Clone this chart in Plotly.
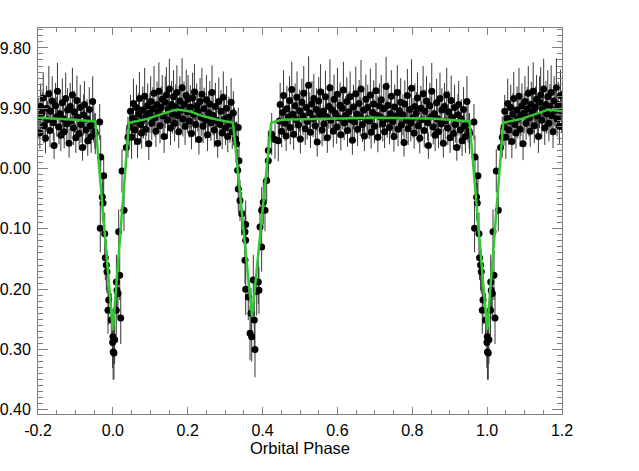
import plotly.graph_objects as go
import numpy as np

# out-of-eclipse photometry, phase 0.04 - 0.33
phase_a = [0.045, 0.047, 0.050, 0.053, 0.055, 0.058, 0.061, 0.063, 0.066, 0.069,
           0.071, 0.074, 0.077, 0.080, 0.082, 0.085, 0.088, 0.090, 0.093, 0.096,
           0.099, 0.101, 0.104, 0.107, 0.110, 0.112, 0.115, 0.118, 0.121, 0.123,
           0.126, 0.129, 0.132, 0.134, 0.137, 0.140, 0.143, 0.146, 0.148, 0.151,
           0.154, 0.157, 0.159, 0.162, 0.165, 0.168, 0.171, 0.173, 0.176, 0.179,
           0.182, 0.185, 0.187, 0.190, 0.193, 0.196, 0.199, 0.201, 0.204, 0.207,
           0.210, 0.213, 0.216, 0.218, 0.221, 0.224, 0.227, 0.230, 0.233, 0.236,
           0.238, 0.241, 0.244, 0.247, 0.250, 0.253, 0.256, 0.259, 0.262, 0.265,
           0.268, 0.271, 0.274, 0.277, 0.280, 0.283, 0.286, 0.289, 0.292, 0.295,
           0.298, 0.301, 0.304, 0.307, 0.310, 0.313, 0.316, 0.319, 0.322, 0.325, 0.328]
mag_a = [19.931, 19.905, 19.948, 19.917, 19.892, 19.936, 19.921, 19.899, 19.955, 19.910,
         19.884, 19.927, 19.941, 19.903, 19.918, 19.880, 19.935, 19.912, 19.896, 19.959,
         19.908, 19.889, 19.925, 19.901, 19.875, 19.916, 19.938, 19.894, 19.906, 19.872,
         19.929, 19.899, 19.885, 19.913, 19.947, 19.890, 19.878, 19.920, 19.902, 19.868,
         19.933, 19.894, 19.909, 19.881, 19.925, 19.897, 19.874, 19.912, 19.939, 19.888,
         19.903, 19.866, 19.918, 19.894, 19.930, 19.879, 19.906, 19.885, 19.921, 19.898,
         19.942, 19.883, 19.910, 19.873, 19.927, 19.896, 19.905, 19.952, 19.889, 19.915,
         19.877, 19.930, 19.901, 19.919, 19.886, 19.944, 19.908, 19.893, 19.924, 19.874,
         19.912, 19.936, 19.897, 19.920, 19.958, 19.889, 19.927, 19.905, 19.941, 19.882,
         19.918, 19.933, 19.900, 19.947, 19.915, 19.926, 19.890, 19.939, 19.908, 19.929, 19.951]
err_a = [0.031, 0.027, 0.036, 0.029, 0.041, 0.025, 0.033, 0.038, 0.028, 0.035,
         0.044, 0.030, 0.026, 0.039, 0.032, 0.047, 0.029, 0.034, 0.037, 0.027,
         0.033, 0.042, 0.028, 0.036, 0.045, 0.031, 0.026, 0.038, 0.030, 0.048,
         0.029, 0.035, 0.040, 0.032, 0.027, 0.043, 0.046, 0.031, 0.036, 0.050,
         0.028, 0.039, 0.033, 0.044, 0.030, 0.037, 0.045, 0.032, 0.027, 0.041,
         0.034, 0.049, 0.029, 0.038, 0.031, 0.043, 0.035, 0.040, 0.028, 0.036,
         0.026, 0.042, 0.033, 0.046, 0.030, 0.037, 0.034, 0.025, 0.039, 0.031,
         0.044, 0.028, 0.035, 0.032, 0.041, 0.027, 0.036, 0.038, 0.030, 0.045,
         0.033, 0.029, 0.039, 0.031, 0.024, 0.040, 0.030, 0.035, 0.027, 0.043,
         0.032, 0.028, 0.037, 0.026, 0.034, 0.031, 0.040, 0.029, 0.036, 0.030, 0.027]

# out-of-eclipse photometry, phase 0.44 - 0.95
phase_b = [0.445, 0.447, 0.451, 0.454, 0.456, 0.460, 0.463, 0.465, 0.469, 0.472,
           0.474, 0.478, 0.481, 0.483, 0.487, 0.490, 0.492, 0.496, 0.499, 0.501,
           0.505, 0.508, 0.510, 0.514, 0.517, 0.519, 0.523, 0.526, 0.528, 0.532,
           0.535, 0.537, 0.541, 0.544, 0.546, 0.550, 0.553, 0.555, 0.559, 0.562,
           0.564, 0.568, 0.571, 0.573, 0.577, 0.580, 0.582, 0.586, 0.589, 0.591,
           0.595, 0.598, 0.600, 0.604, 0.607, 0.609, 0.613, 0.616, 0.618, 0.622,
           0.625, 0.627, 0.631, 0.634, 0.636, 0.640, 0.643, 0.645, 0.649, 0.652,
           0.654, 0.658, 0.661, 0.663, 0.667, 0.670, 0.672, 0.676, 0.679, 0.681,
           0.685, 0.688, 0.690, 0.694, 0.697, 0.699, 0.703, 0.706, 0.708, 0.712,
           0.715, 0.717, 0.721, 0.724, 0.726, 0.730, 0.733, 0.735, 0.739, 0.742,
           0.744, 0.748, 0.751, 0.753, 0.757, 0.760, 0.762, 0.766, 0.769, 0.771,
           0.775, 0.778, 0.780, 0.784, 0.787, 0.789, 0.793, 0.796, 0.798, 0.802,
           0.805, 0.807, 0.811, 0.814, 0.816, 0.820, 0.823, 0.825, 0.829, 0.832,
           0.834, 0.838, 0.841, 0.843, 0.847, 0.850, 0.852, 0.856, 0.859, 0.861,
           0.865, 0.868, 0.870, 0.874, 0.877, 0.879, 0.883, 0.886, 0.888, 0.892,
           0.895, 0.897, 0.901, 0.904, 0.906, 0.910, 0.913, 0.915, 0.919, 0.922,
           0.924, 0.928, 0.931, 0.933, 0.937, 0.940, 0.942, 0.946, 0.949, 0.952]
mag_b = [19.921, 19.894, 19.938, 19.907, 19.879, 19.925, 19.946, 19.901, 19.915, 19.887,
         19.932, 19.869, 19.910, 19.943, 19.896, 19.919, 19.882, 19.928, 19.904, 19.951,
         19.890, 19.913, 19.875, 19.934, 19.899, 19.922, 19.862, 19.908, 19.940, 19.893,
         19.917, 19.884, 19.929, 19.902, 19.956, 19.888, 19.911, 19.873, 19.936, 19.905,
         19.926, 19.881, 19.914, 19.949, 19.897, 19.866, 19.920, 19.903, 19.938, 19.885,
         19.909, 19.931, 19.877, 19.916, 19.895, 19.944, 19.900, 19.870, 19.924, 19.912,
         19.889, 19.937, 19.906, 19.881, 19.919, 19.953, 19.898, 19.923, 19.876, 19.910,
         19.935, 19.892, 19.914, 19.868, 19.927, 19.903, 19.946, 19.885, 19.918, 19.899,
         19.921, 19.878, 19.940, 19.907, 19.893, 19.930, 19.871, 19.912, 19.948, 19.896,
         19.915, 19.886, 19.926, 19.901, 19.939, 19.864, 19.918, 19.895, 19.932, 19.909,
         19.880, 19.922, 19.947, 19.898, 19.913, 19.874, 19.935, 19.904, 19.890, 19.928,
         19.911, 19.957, 19.893, 19.920, 19.879, 19.934, 19.902, 19.925, 19.867, 19.916,
         19.941, 19.897, 19.908, 19.883, 19.929, 19.950, 19.900, 19.919, 19.876, 19.937,
         19.905, 19.888, 19.924, 19.962, 19.896, 19.914, 19.872, 19.931, 19.909, 19.945,
         19.891, 19.918, 19.939, 19.884, 19.926, 19.903, 19.958, 19.897, 19.921, 19.878,
         19.933, 19.906, 19.949, 19.887, 19.915, 19.942, 19.899, 19.927, 19.965, 19.911,
         19.894, 19.936, 19.918, 19.954, 19.902, 19.929, 19.947, 19.889, 19.925, 19.938]
err_b = [0.030, 0.036, 0.027, 0.033, 0.042, 0.029, 0.025, 0.038, 0.031, 0.040,
         0.028, 0.046, 0.034, 0.026, 0.037, 0.031, 0.043, 0.029, 0.035, 0.024,
         0.039, 0.032, 0.045, 0.027, 0.036, 0.030, 0.048, 0.034, 0.026, 0.038,
         0.031, 0.041, 0.028, 0.035, 0.024, 0.040, 0.033, 0.046, 0.027, 0.036,
         0.029, 0.043, 0.032, 0.025, 0.037, 0.047, 0.030, 0.034, 0.027, 0.041,
         0.033, 0.028, 0.044, 0.031, 0.038, 0.026, 0.035, 0.047, 0.029, 0.032,
         0.040, 0.027, 0.034, 0.042, 0.030, 0.024, 0.037, 0.031, 0.045, 0.033,
         0.028, 0.039, 0.032, 0.048, 0.029, 0.036, 0.025, 0.041, 0.031, 0.038,
         0.030, 0.044, 0.027, 0.035, 0.039, 0.028, 0.046, 0.033, 0.025, 0.037,
         0.032, 0.041, 0.029, 0.036, 0.027, 0.049, 0.031, 0.038, 0.028, 0.034,
         0.043, 0.030, 0.025, 0.037, 0.033, 0.045, 0.028, 0.035, 0.040, 0.029,
         0.034, 0.023, 0.039, 0.031, 0.044, 0.027, 0.036, 0.030, 0.048, 0.033,
         0.026, 0.038, 0.035, 0.042, 0.029, 0.025, 0.037, 0.031, 0.046, 0.028,
         0.036, 0.041, 0.030, 0.022, 0.038, 0.033, 0.047, 0.029, 0.035, 0.026,
         0.040, 0.032, 0.027, 0.043, 0.030, 0.036, 0.024, 0.039, 0.031, 0.045,
         0.028, 0.035, 0.025, 0.041, 0.033, 0.027, 0.038, 0.030, 0.022, 0.034,
         0.039, 0.029, 0.033, 0.025, 0.037, 0.031, 0.027, 0.042, 0.032, 0.029]

# primary eclipse
phase_prim = [0.953, 0.9648, 0.9675, 0.9755, 0.9718, 0.9737, 0.9664, 0.9782, 0.9798, 0.9825,
              0.9843, 0.9889, 0.9870, 0.9958, 0.9995, 0.0003, 0.0048, 0.0008, 0.0030, 0.0091,
              0.0137, 0.0183, 0.0095, 0.0110, 0.0210, 0.0156, 0.0298, 0.0244, 0.0359, 0.0404]
mag_prim = [19.942, 19.923, 19.981, 20.012, 20.047, 20.057, 20.099, 20.108, 20.148, 20.160,
            20.171, 20.218, 20.235, 20.251, 20.288, 20.279, 20.284, 20.304, 20.306, 20.235,
            20.207, 20.177, 20.188, 20.202, 20.248, 20.105, 20.069, 20.004, 19.965, 19.948]
err_prim = [0.034, 0.030, 0.036, 0.031, 0.038, 0.033, 0.040, 0.035, 0.037, 0.042,
            0.036, 0.041, 0.039, 0.044, 0.043, 0.047, 0.040, 0.046, 0.044, 0.042,
            0.039, 0.041, 0.045, 0.038, 0.043, 0.037, 0.035, 0.036, 0.032, 0.034]

# secondary eclipse
phase_sec = [0.3351, 0.3309, 0.3370, 0.3335, 0.3351, 0.3397, 0.3442, 0.3549, 0.3530, 0.3549,
             0.3530, 0.3549, 0.3618, 0.3691, 0.3664, 0.3709, 0.3779, 0.3797, 0.3843, 0.3752,
             0.3904, 0.3886, 0.3976, 0.3931, 0.3976, 0.4065, 0.4019, 0.4110, 0.4153, 0.4153,
             0.4244, 0.4332, 0.4420]
mag_sec = [19.932, 19.959, 19.987, 20.003, 20.034, 20.053, 20.075, 20.093, 20.105, 20.119,
           20.152, 20.200, 20.213, 20.240, 20.273, 20.279, 20.251, 20.300, 20.204, 20.185,
           20.202, 20.188, 20.130, 20.097, 20.069, 20.069, 20.056, 20.020, 19.987, 19.970,
           19.943, 19.952, 19.954]
err_sec = [0.033, 0.037, 0.031, 0.035, 0.038, 0.034, 0.036, 0.040, 0.037, 0.041,
           0.039, 0.043, 0.038, 0.042, 0.045, 0.041, 0.044, 0.046, 0.040, 0.042,
           0.039, 0.037, 0.041, 0.036, 0.038, 0.035, 0.037, 0.034, 0.036, 0.033,
           0.035, 0.032, 0.034]

# light-curve model
model_phase = [-0.2, -0.15, -0.1, -0.047, 0.0, 0.043, 0.09, 0.134, 0.171, 0.205, 0.24,
               0.28, 0.321, 0.372, 0.423, 0.45, 0.5, 0.6, 0.7, 0.8, 0.85, 0.9, 0.953,
               1.0, 1.043, 1.09, 1.134, 1.165, 1.2]
model_mag = [19.916, 19.917, 19.919, 19.922, 20.268, 19.924, 19.918, 19.909, 19.902, 19.905, 19.913,
             19.919, 19.924, 20.246, 19.924, 19.919, 19.918, 19.917, 19.916, 19.916, 19.917, 19.919, 19.922,
             20.268, 19.924, 19.918, 19.909, 19.902, 19.905]

x_ticks = [-0.2, 0.0, 0.2, 0.4, 0.6, 0.8, 1.0, 1.2]
x_tick_labels = ["-0.2", "0.0", "0.2", "0.4", "0.6", "0.8", "1.0", "1.2"]
y_ticks = [19.8, 19.9, 20.0, 20.1, 20.2, 20.3, 20.4]
y_tick_labels = ["9.80", "9.90", "0.00", "0.10", "0.20", "0.30", "0.40"]

phase = phase_a + phase_b + phase_prim + phase_sec
mag = mag_a + mag_b + mag_prim + mag_sec
err = err_a + err_b + err_prim + err_sec

# plot the folded curve twice so it spans -0.2 .. 1.2
xs, ys, es = [], [], []
for p, m, e in zip(phase, mag, err):
    xs.append(p); ys.append(m); es.append(e)
    if p >= 0.8:
        xs.append(p - 1); ys.append(m); es.append(e)
    if p < 0.2:
        xs.append(p + 1); ys.append(m); es.append(e)

axcol = "#808080"
fig = go.Figure()
fig.add_trace(go.Scatter(x=xs, y=ys, mode="markers",
                         marker=dict(color="black", size=7),
                         error_y=dict(type="data", array=es, color="#383838", thickness=1, width=0)))
fig.add_trace(go.Scatter(x=model_phase, y=model_mag, mode="lines",
                         line=dict(color="#35c835", width=2.5)))

fig.update_layout(width=639, height=471, showlegend=False,
                  margin=dict(l=38, r=77, t=28, b=57),
                  plot_bgcolor="white", paper_bgcolor="white",
                  font=dict(family="Liberation Sans, Arial", size=16, color="black"))
fig.update_xaxes(range=[-0.2, 1.2], tickmode="array", tickvals=x_ticks, ticktext=x_tick_labels,
                 showgrid=False, zeroline=False, showline=True, linecolor=axcol, linewidth=1,
                 mirror="ticks", ticks="inside", ticklen=7, tickcolor=axcol, automargin=False,
                 ticklabelstandoff=2,
                 minor=dict(tickmode="array", tickvals=list(np.arange(-0.2, 1.201, 0.05)),
                            ticks="inside", ticklen=4, tickcolor=axcol, showgrid=False),
                 title=dict(text="Orbital Phase", font=dict(size=16.5), standoff=4))
fig.update_yaxes(range=[20.407, 19.767], tickmode="array", tickvals=y_ticks, ticktext=y_tick_labels,
                 showgrid=False, zeroline=False, showline=True, linecolor=axcol, linewidth=1,
                 mirror="ticks", ticks="inside", ticklen=10, tickcolor=axcol, automargin=False,
                 ticklabelstandoff=3,
                 minor=dict(tickmode="array", tickvals=list(np.arange(19.77, 20.405, 0.01)),
                            ticks="inside", ticklen=5, tickcolor=axcol, showgrid=False))
fig.write_html("out.html", config={"displayModeBar": False},
               post_script="document.body.style.margin='0';")
